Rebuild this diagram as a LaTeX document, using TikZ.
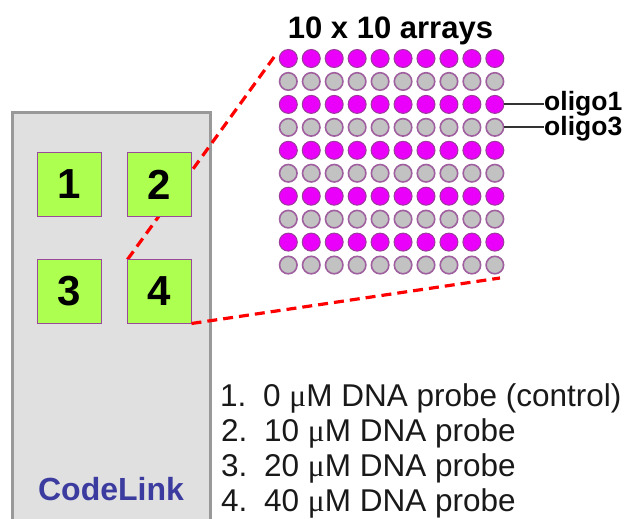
\documentclass[tikz,border=0pt]{standalone}
\usepackage{fontspec}
\setmainfont{Liberation Sans}
\newfontfamily\mufont{Liberation Serif}
\definecolor{chipfill}{HTML}{E0E0E0}
\definecolor{chipborder}{HTML}{999999}
\definecolor{spotgreen}{HTML}{ADFF50}
\definecolor{spotborder}{HTML}{9A4A9A}
\definecolor{magdot}{HTML}{EA00FA}
\definecolor{magborder}{HTML}{9A3A9A}
\definecolor{graydot}{HTML}{C2C2C2}
\definecolor{grayborder}{HTML}{A060A0}
\definecolor{leadgray}{HTML}{333333}
\definecolor{codeblue}{HTML}{3C3CA0}
\pgfdeclarelayer{paper}
\pgfdeclarelayer{back}
\pgfdeclarelayer{mid}
\pgfsetlayers{paper,back,mid,main}
\newcommand{\um}{{\mufont μ}M}
\begin{document}
\begin{tikzpicture}[x=1pt,y=-1pt,
  chip/.style={draw=chipborder, line width=2.5pt, fill=chipfill},
  spot/.style={rectangle, draw=spotborder, line width=1pt, fill=spotgreen,
    minimum size=64pt, inner sep=0pt, outer sep=0pt,
    font=\fontsize{42}{42}\selectfont\bfseries},
  mdot/.style={circle, draw=magborder, fill=magdot, line width=1pt,
    minimum size=18pt, inner sep=0pt, outer sep=0pt},
  gdot/.style={circle, draw=grayborder, fill=graydot, line width=1.6pt,
    minimum size=17.5pt, inner sep=0pt, outer sep=0pt},
  zoomline/.style={draw=red, line width=3.2pt, dash pattern=on 10pt off 6pt},
  leader/.style={draw=leadgray, line width=2pt},
  oligotext/.style={anchor=west, inner sep=0pt, font=\fontsize{26.5}{26.5}\selectfont\bfseries},
  legtext/.style={anchor=base west, inner sep=0pt, font=\fontsize{31.5}{31.5}\selectfont, text=black!90}
]
\begin{pgfonlayer}{paper}
\fill[white] (0,0) rectangle (641,519);
\end{pgfonlayer}
\useasboundingbox (0,0) rectangle (641,519);

% chip body
\begin{pgfonlayer}{back}
\draw[chip] (12.5,112.5) -- (210.5,112.5) -- (210.5,530) -- (12.5,530) -- cycle;
\end{pgfonlayer}

% spots
\node[spot] (s1) at (69.5,184.5) {1};
\node[spot] (s2) at (159.5,184.5) {2};
\node[spot] (s3) at (69.5,291.5) {3};
\node[spot] (s4) at (159.5,291.5) {4};

% title
\node[anchor=base, inner sep=0pt, font=\fontsize{31}{31}\selectfont\bfseries] (title) at (390.5,38.3) {10 x 10 arrays};

% dot array
\foreach \r/\s in {1/mdot,2/gdot,3/mdot,4/gdot,5/mdot,6/gdot,7/mdot,8/gdot,9/mdot,10/gdot}
  \foreach \c in {1,...,10}
    \node[\s] (d-\r-\c) at ({288.3+(\c-1)*22.95},{58.5+(\r-1)*22.95}) {};

% zoom lines
\coordinate (gtl) at (277,53);
\coordinate (gbr) at (500,278);
\begin{pgfonlayer}{mid}
\draw[zoomline] (s4.north west) -- (gtl);
\end{pgfonlayer}
\draw[zoomline] (s4.south east) -- (gbr);

% oligo labels
\node[oligotext] (o1) at (544,103.4) {oligo1};
\node[oligotext] (o3) at (544,128.4) {oligo3};
\draw[leader] (d-3-10.east) -- (d-3-10.east -| o1.west);
\draw[leader] (d-4-10.east) -- (d-4-10.east -| o3.west);

% chip name
\node[anchor=base, inner sep=0pt, text=codeblue, font=\fontsize{32}{32}\selectfont\bfseries] (cl) at (111,500) {CodeLink};

% legend
\node[legtext] (n1) at (220,406.7) {1.};
\node[legtext] (t1) at (263,406.7) {0 \um\ DNA probe (control)};
\node[legtext] (n2) at (221,441.7) {2.};
\node[legtext] (t2) at (264,441.7) {10 \um\ DNA probe};
\node[legtext] (n3) at (221,476.7) {3.};
\node[legtext] (t3) at (264,476.7) {20 \um\ DNA probe};
\node[legtext] (n4) at (221,511.7) {4.};
\node[legtext] (t4) at (264,511.7) {40 \um\ DNA probe};
\end{tikzpicture}
\end{document}
